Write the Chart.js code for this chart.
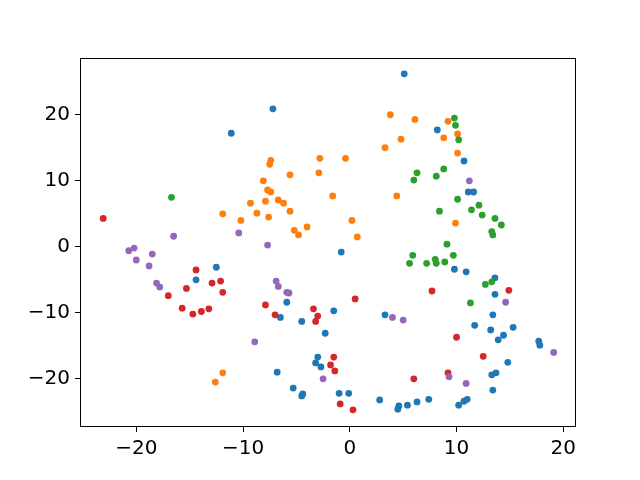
<!DOCTYPE html>
<html>
<head>
<meta charset="utf-8">
<script src="https://cdn.jsdelivr.net/npm/chart.js@4.4.1/dist/chart.umd.min.js"></script>
<style>
  html, body { margin: 0; padding: 0; background: #fff; }
  #wrap { width: 640px; height: 480px; }
</style>
</head>
<body>
<div id="wrap"><canvas id="scatter" width="640" height="480"></canvas></div>
<script>
// ===== Data =====
const bluePts = [[-11.1,17.2],[5.1,26.2],[-7.2,20.9],[8.2,17.7],[10.7,13.0],[11.1,8.3],[11.6,8.3],[-14.4,-5.0],[-12.5,-3.1],[-0.8,-0.8],[9.8,-3.4],[10.9,-3.8],[13.6,-4.7],[13.6,-7.2],[13.4,-10.3],[11.7,-11.9],[13.2,-12.6],[15.3,-12.2],[14.4,-13.4],[13.9,-14.1],[17.7,-14.3],[17.8,-14.9],[14.8,-17.5],[13.3,-19.4],[13.7,-19.1],[13.4,-21.7],[7.4,-23.1],[6.3,-23.5],[10.2,-24.0],[10.7,-23.4],[11.0,-23.1],[-5.9,-8.4],[-6.5,-10.7],[-4.5,-11.3],[-1.5,-9.7],[3.3,-10.3],[-2.3,-13.1],[-3.0,-16.7],[-3.2,-17.6],[-2.7,-18.2],[-6.8,-19.0],[-5.3,-21.4],[-4.4,-22.3],[-4.5,-22.6],[-1.0,-22.2],[-0.1,-22.2],[2.8,-23.2],[4.6,-24.1],[4.5,-24.6],[5.4,-24.0]];
const orangePts = [[-11.9,5.0],[-10.2,4.0],[-9.3,6.6],[3.8,20.0],[6.1,19.3],[4.8,16.3],[3.3,15.0],[-7.4,13.1],[-7.5,12.5],[-2.8,13.4],[-0.4,13.4],[-5.6,10.9],[-2.9,11.2],[-8.1,10.0],[-7.7,8.6],[-7.4,8.3],[-7.9,6.9],[-6.7,7.1],[-6.2,6.6],[-1.6,7.7],[4.4,7.7],[-8.7,5.1],[-7.6,4.5],[-5.6,5.4],[-5.2,2.5],[-4.8,1.8],[-4.0,3.0],[0.2,4.0],[0.7,1.5],[9.2,19.0],[10.1,17.1],[8.8,16.5],[10.1,14.2],[9.9,3.6],[-11.9,-19.1],[-12.6,-20.5]];
const greenPts = [[-16.7,7.5],[6.0,10.1],[6.3,11.2],[9.8,19.5],[9.9,18.4],[10.2,16.2],[8.8,11.8],[8.1,10.7],[10.1,7.2],[12.1,6.3],[8.4,5.4],[11.4,5.6],[12.4,4.8],[13.6,4.3],[14.2,3.3],[13.3,2.3],[13.4,1.8],[9.1,0.4],[5.9,-1.3],[5.6,-2.5],[7.2,-2.5],[8.0,-1.9],[8.1,-2.5],[8.9,-2.3],[9.7,-1.3],[12.7,-5.7],[13.3,-5.3],[11.3,-8.5]];
const redPts = [[-23.1,4.3],[-17.0,-7.4],[-15.7,-9.3],[-14.7,-10.2],[-13.9,-9.8],[-13.2,-9.4],[-15.3,-6.3],[-14.4,-3.5],[-12.9,-5.5],[-12.1,-5.2],[-11.9,-6.9],[7.7,-6.7],[14.9,-6.6],[10.0,-13.7],[12.5,-16.6],[9.2,-19.1],[6.0,-20.0],[-7.9,-8.8],[0.5,-7.9],[-7.0,-10.3],[-3.4,-9.4],[-3.0,-10.5],[-3.2,-11.3],[-1.5,-16.7],[-1.8,-17.9],[-1.4,-18.8],[-0.9,-23.8],[0.3,-24.7]];
const purplePts = [[-16.5,1.6],[-10.4,2.1],[-20.2,-0.2],[-20.7,-0.6],[-20.0,-2.0],[-18.5,-1.1],[-18.8,-2.9],[-18.1,-5.5],[-17.8,-6.1],[-7.7,0.26],[11.2,10.0],[14.6,-8.4],[19.1,-16.0],[9.3,-19.7],[10.9,-20.7],[-6.9,-5.2],[-6.7,-6.0],[-5.9,-6.9],[-5.7,-7.0],[4.0,-10.7],[5.0,-11.1],[-8.9,-14.4],[-2.5,-20.0]];

const xTicks = [-20, -10, 0, 10, 20];
const yTicks = [-20, -10, 0, 10, 20];
const xRange = [-25.27, 21.19];
const yRange = [-27.3, 28.6];

// ===== Series setup =====
const series = [
  { pts: bluePts,   color: '#1f77b4' },
  { pts: orangePts, color: '#ff7f0e' },
  { pts: greenPts,  color: '#2ca02c' },
  { pts: redPts,    color: '#d62728' },
  { pts: purplePts, color: '#9467bd' }
];

const datasets = series.map((s, i) => ({
  data: s.pts.map(p => ({ x: p[0], y: p[1] })),
  backgroundColor: s.color,
  borderColor: s.color,
  borderWidth: 0,
  pointRadius: 3.4,
  pointHoverRadius: 3.4,
  order: series.length - i   // later series drawn on top, like matplotlib
}));

// frame on all four sides
const boxPlugin = {
  id: 'box',
  afterDraw(chart) {
    const a = chart.chartArea;
    const ctx = chart.ctx;
    ctx.save();
    ctx.strokeStyle = '#000';
    ctx.lineWidth = 1;
    ctx.strokeRect(Math.round(a.left) + 0.5, Math.round(a.top) + 0.5,
                   Math.round(a.right - a.left) - 1, Math.round(a.bottom - a.top) - 1);
    ctx.restore();
  }
};

const minus = v => String(v).replace('-', '\u2212');

const axisCommon = {
  type: 'linear',
  grid: { display: true, drawOnChartArea: false, drawTicks: true, tickLength: 5, color: '#000' },
  border: { display: false },
  ticks: {
    color: '#000',
    font: { family: 'DejaVu Sans', size: 20 },
    padding: 5,
    autoSkip: false,
    maxRotation: 0,
    callback: v => minus(v)
  }
};

new Chart(document.getElementById('scatter').getContext('2d'), {
  type: 'scatter',
  data: { datasets },
  options: {
    responsive: false,
    animation: false,
    layout: { padding: { left: 0, top: 58, right: 64, bottom: 0 } },
    plugins: { legend: { display: false }, tooltip: { enabled: false } },
    scales: {
      x: {
        ...axisCommon,
        min: xRange[0], max: xRange[1],
        afterBuildTicks: s => { s.ticks = xTicks.map(v => ({ value: v })); },
        afterFit: s => { s.height = 53; }
      },
      y: {
        ...axisCommon,
        min: yRange[0], max: yRange[1],
        afterBuildTicks: s => { s.ticks = yTicks.map(v => ({ value: v })); },
        afterFit: s => { s.width = 80; }
      }
    }
  },
  plugins: [boxPlugin]
});
</script>
</body>
</html>
